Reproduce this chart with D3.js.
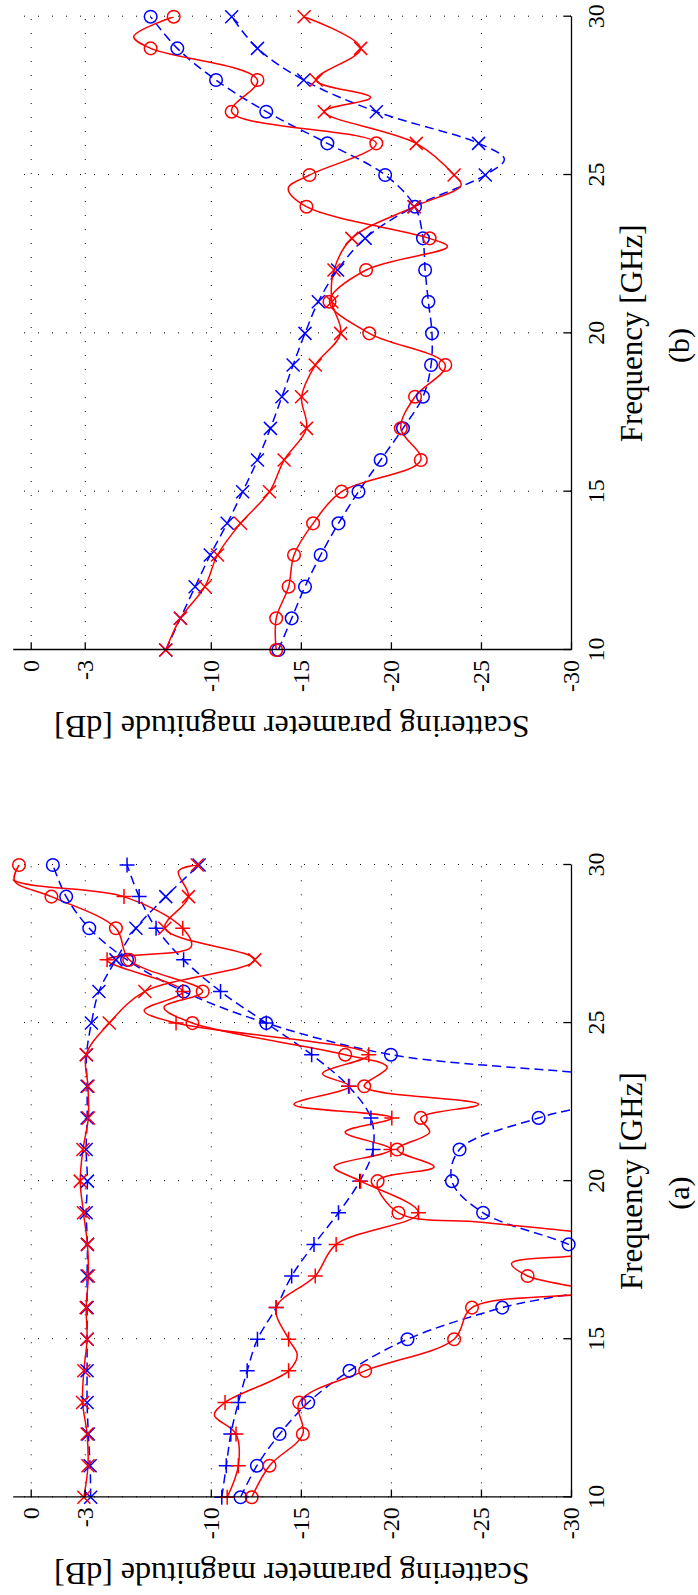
<!DOCTYPE html>
<html>
<head>
<script src="https://d3js.org/d3.v7.min.js"></script>
<title>Scattering parameters</title>
<style>
body {margin:0; background:white;}
text {font-family: "Liberation Serif", "Times New Roman", Times, serif;}
.grid line {stroke:#000; stroke-width:1; stroke-dasharray:1,13;}
.grid path {display:none;}
.axis path, .axis line {stroke:#000; stroke-width:1.3;}
</style>
</head>
<body>
<div id="myDiv"></div>
<script>
// frequency points (GHz), one marker per point
const freq = [10,11,12,13,14,15,16,17,18,19,20,21,22,23,24,25,26,27,28,29,30];
const freqTicks = [10,15,20,25,30];
const dbTicks = [0,-3,-10,-15,-20,-25,-30];

// panel (a), dB
const aRedO  = [-12.27,-13.26,-15.11,-14.91,-18.57,-23.51,-24.5,-27.59,-35,-20.42,-19.26,-20.35,-21.66,-18.52,-17.46,-8.98,-9.55,-5.47,-4.73,-1.15,0.65];
const aRedOExtra = [[16.5,-31],[17.4,-26.7],[17.65,-30.5],[18.4,-30.2],[18.7,-25],[20.45,-22.4],[21.55,-22.15],[22.43,-24.87],[23.6,-19.8],[25.5,-7.4],[29.5,0.9]];
const aRedP  = [-10.91,-11.53,-11.4,-10.79,-14.32,-14.32,-13.63,-15.8,-16.96,-21.53,-18.32,-20.0,-20.05,-17.7,-18.77,-8.07,-8.44,-4.24,-8.44,-5.18,2.0];
const aRedPExtra = [[12.6,-10.2],[14.5,-14.8],[20.45,-16.84],[21.55,-17.46],[22.43,-14.62],[23.4,-16.2],[25.4,-6.3],[27.4,-8.9],[29.5,0.9]];
const aRedX  = [-2.95,-3.18,-3.13,-2.88,-2.95,-3.13,-3.08,-3.2,-3.15,-2.93,-2.75,-2.9,-3.2,-3.18,-3.08,-4.36,-6.34,-12.44,-7.45,-8.76,-9.25];
const aRedXExtra = [[29.8,-8.2]];
const aBlueO = [-11.65,-12.56,-13.82,-15.41,-17.7,-20.92,-26.18,-33.5,-29.87,-25.12,-23.39,-23.81,-28.2,-35,-20.0,-13.08,-8.49,-5.35,-3.25,-1.97,-1.23];
const aBlueP = [-10.61,-10.86,-11.11,-11.53,-12.02,-12.59,-13.63,-14.49,-15.73,-17.09,-18.27,-19.01,-18.89,-17.65,-15.6,-13.08,-10.54,-8.49,-6.96,-6.02,-5.35];
const aBlueX = [-3.33,-3.3,-3.2,-3.13,-3.13,-3.13,-3.13,-3.13,-3.15,-3.08,-3.15,-3.08,-3.13,-3.13,-3.1,-3.37,-3.79,-4.73,-5.84,-7.5,-9.35];

// panel (b), dB
const bRedO  = [-13.63,-13.63,-14.32,-14.62,-15.68,-17.26,-21.66,-20.55,-21.34,-23.02,-18.8,-16.59,-18.62,-22.15,-15.31,-15.48,-19.19,-11.16,-12.59,-6.66,-7.94];
const bRedOExtra = [[22.74,-23.14],[24.58,-14.3],[29.37,-5.72]];
const bRedX  = [-7.5,-8.31,-9.67,-10.37,-11.65,-13.26,-14.07,-15.31,-15.04,-15.8,-17.21,-16.72,-16.84,-17.83,-21.29,-23.51,-21.41,-16.3,-15.85,-18.32,-15.18];
const bRedXExtra = [[24.68,-23.9],[27.45,-18.87]];
const bBlueO = [-13.75,-14.49,-15.23,-16.1,-17.09,-18.2,-19.43,-20.67,-21.78,-22.23,-22.28,-22.08,-21.9,-21.78,-21.34,-19.68,-16.47,-13.08,-10.29,-8.14,-6.66];
const bBlueX = [-7.5,-8.31,-9.13,-9.97,-10.91,-11.77,-12.59,-13.31,-13.95,-14.57,-15.23,-15.97,-17.04,-18.57,-21.29,-25.24,-24.87,-19.19,-15.16,-12.59,-11.16];
const bBlueXExtra = [[25.5,-26.3]];

const H = 558.3;   // dB axis length (+1 .. -30)

var svgContainer = d3.select("#myDiv").append("svg")
    .attr("width",698)
    .attr("height",1595);

function points(vals, extra) {
  var p = freq.map(function(f,i) {return [f, vals[i]];});
  if (extra) p = p.concat(extra);
  return p.sort(function(a,b) {return a[0]-b[0];});
}

var markerPath = {
  plus: "M-7.5,0H7.5M0,-7.5V7.5",
  cross: "M-6.5,-6.5L6.5,6.5M-6.5,6.5L6.5,-6.5"
};

// chart is drawn normally, then turned 90 degrees anticlockwise
function drawPanel(id, tx, ty, fw, series, tag) {
  var g = svgContainer.append("g")
      .attr("transform","translate(" + tx + "," + ty + ") rotate(-90)");

  var x = d3.scaleLinear().domain([10,30]).range([0,fw]);
  var y = d3.scaleLinear().domain([1,-30]).range([0,H]);

  g.append("clipPath").attr("id","clip" + id)
    .append("rect").attr("x",0).attr("y",0).attr("width",fw).attr("height",H);

  // dotted grid
  g.append("g").attr("class","grid")
    .attr("transform","translate(0," + H + ")")
    .call(d3.axisBottom(x).tickValues(freqTicks).tickSize(-H).tickFormat(""));
  g.append("g").attr("class","grid")
    .call(d3.axisLeft(y).tickValues(dbTicks).tickSize(-fw).tickFormat(""));

  var line = d3.line()
      .x(function(d) {return x(d[0]);})
      .y(function(d) {return y(d[1]);})
      .curve(d3.curveCatmullRom.alpha(0.5));

  var lines = g.append("g").attr("clip-path","url(#clip" + id + ")");

  series.forEach(function(s) {
    lines.append("path")
      .attr("d", line(points(s.vals, s.extra)))
      .attr("fill","none")
      .attr("stroke", s.color)
      .attr("stroke-width",1.5)
      .attr("stroke-dasharray", s.dash ? "9,5" : null);

    var pts = freq.map(function(f,i) {return [f, s.vals[i]];})
      .filter(function(d) {return d[1] <= 1 && d[1] >= -30;});
    var m = g.append("g").selectAll("g").data(pts).enter().append("g")
      .attr("transform", function(d) {return "translate(" + x(d[0]) + "," + y(d[1]) + ")";});
    if (s.marker == "circle") {
      m.append("circle").attr("r",6.3).attr("fill","none")
        .attr("stroke", s.color).attr("stroke-width",1.5);
    } else {
      m.append("path").attr("d", markerPath[s.marker]).attr("fill","none")
        .attr("stroke", s.color).attr("stroke-width",1.5);
    }
  });

  // axes
  g.append("g").attr("class","axis")
    .attr("transform","translate(0," + H + ")")
    .call(d3.axisBottom(x).tickValues(freqTicks).tickSize(-7.7).tickSizeOuter(0).tickPadding(16))
    .attr("font-size",24).attr("font-family",null);
  g.append("g").attr("class","axis")
    .call(d3.axisLeft(y).tickValues(dbTicks).tickSize(-7.7).tickSizeOuter(0).tickPadding(10)
      .tickFormat(function(d) {return String(d);}))
    .attr("font-size",24).attr("font-family",null);

  g.append("text")
    .attr("x", x(20)).attr("y", H + 71)
    .attr("text-anchor","middle").attr("font-size",31)
    .text("Frequency [GHz]");
  g.append("text")
    .attr("x", x(19.62)).attr("y", H + 118)
    .attr("text-anchor","middle").attr("font-size",30)
    .text(tag);
  g.append("text")
    .attr("transform","translate(-66," + y(-14.5) + ") rotate(-90)")
    .attr("text-anchor","middle").attr("font-size",32)
    .text("Scattering parameter magnitude [dB]");
}

drawPanel("b", 12.7, 650, 633.3, [
  {vals: bBlueO, color:"blue", dash:true, marker:"circle"},
  {vals: bBlueX, extra: bBlueXExtra, color:"blue", dash:true, marker:"cross"},
  {vals: bRedO, extra: bRedOExtra, color:"red", dash:false, marker:"circle"},
  {vals: bRedX, extra: bRedXExtra, color:"red", dash:false, marker:"cross"}
], "(b)");

drawPanel("a", 12.7, 1497.3, 632.3, [
  {vals: aBlueO, color:"blue", dash:true, marker:"circle"},
  {vals: aBlueP, color:"blue", dash:true, marker:"plus"},
  {vals: aBlueX, color:"blue", dash:true, marker:"cross"},
  {vals: aRedO, extra: aRedOExtra, color:"red", dash:false, marker:"circle"},
  {vals: aRedP, extra: aRedPExtra, color:"red", dash:false, marker:"plus"},
  {vals: aRedX, extra: aRedXExtra, color:"red", dash:false, marker:"cross"}
], "(a)");
</script>
</body>
</html>
